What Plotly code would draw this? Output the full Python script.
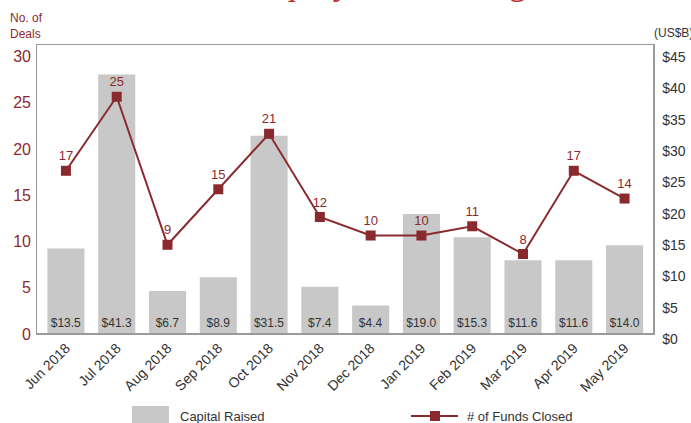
import plotly.graph_objects as go

months = ["Jun 2018", "Jul 2018", "Aug 2018", "Sep 2018", "Oct 2018", "Nov 2018",
          "Dec 2018", "Jan 2019", "Feb 2019", "Mar 2019", "Apr 2019", "May 2019"]
capital_raised = [13.5, 41.3, 6.7, 8.9, 31.5, 7.4, 4.4, 19.0, 15.3, 11.6, 11.6, 14.0]
funds_closed = [17, 25, 9, 15, 21, 12, 10, 10, 11, 8, 17, 14]

RED = "#8b2a2e"
GRAY_BAR = "#c8c8c8"
TXT = "#333333"
FONT = "Arial, Liberation Sans, sans-serif"

# plot-area pixel geometry
L, R, T, B = 37, 653, 45, 333
W, H = 691, 423
def px(x):
    return (x - L) / (R - L)
def py(y):
    return (B - y) / (B - T)

fig = go.Figure()
fig.add_trace(go.Bar(
    x=months, y=capital_raised, yaxis="y", name="Capital Raised",
    marker=dict(color=GRAY_BAR, line=dict(width=0)), width=0.73,
    texttemplate="$%{y:.1f}", textposition="inside", insidetextanchor="start",
    constraintext="none", textangle=0,
    textfont=dict(size=12, color=TXT, family=FONT), showlegend=False,
))
fig.add_trace(go.Scatter(
    x=months, y=funds_closed, yaxis="y2", name="# of Funds Closed",
    mode="lines+markers+text", text=[str(v) for v in funds_closed],
    textposition="top center", textfont=dict(size=13, color=RED, family=FONT),
    line=dict(color=RED, width=2), marker=dict(symbol="square", size=10, color=RED),
    showlegend=False, cliponaxis=False,
))

shapes = [
    dict(type="rect", xref="paper", yref="paper", x0=px(132), x1=px(169), y0=py(406), y1=py(430),
         fillcolor=GRAY_BAR, line=dict(width=0)),
    dict(type="line", xref="paper", yref="paper", x0=px(411), x1=px(458), y0=py(416), y1=py(416),
         line=dict(color=RED, width=2)),
    dict(type="rect", xref="paper", yref="paper", x0=px(430), x1=px(440), y0=py(411), y1=py(421),
         fillcolor=RED, line=dict(width=0)),
]

annotations = [
    dict(text="Capital Raised", x=px(178), y=py(416), xref="paper", yref="paper",
         xanchor="left", yanchor="middle", showarrow=False,
         font=dict(size=13, color=TXT, family=FONT)),
    dict(text="# of Funds Closed", x=px(465), y=py(416), xref="paper", yref="paper",
         xanchor="left", yanchor="middle", showarrow=False,
         font=dict(size=13, color=TXT, family=FONT)),
    dict(text="No. of<br>Deals", x=px(8), y=py(25.5), xref="paper", yref="paper",
         xanchor="left", yanchor="middle", align="left", showarrow=False,
         font=dict(size=12, color=RED, family=FONT)),
    dict(text="(US$B)", x=px(652), y=py(33), xref="paper", yref="paper",
         xanchor="left", yanchor="middle", showarrow=False,
         font=dict(size=12, color=TXT, family=FONT)),
    dict(text="Private Equity Fundraising", x=px(337), y=py(4), xref="paper", yref="paper",
         xanchor="center", yanchor="bottom", showarrow=False,
         font=dict(size=35, color="#c0302e", family="Liberation Serif, Times New Roman, serif")),
]

fig.update_layout(
    width=W, height=H,
    margin=dict(l=L, r=W - R, t=T, b=H - B, pad=0, autoexpand=False),
    paper_bgcolor="white", plot_bgcolor="white",
    font=dict(family=FONT, color=TXT),
    bargap=0.27,
    hovermode=False,
    xaxis=dict(type="category", range=[-0.57, 11.56], tickangle=-45, automargin=False,
               tickfont=dict(size=14, color=TXT, family=FONT), ticklabelstandoff=0,
               showgrid=False, zeroline=False, ticks="",
               showline=True, mirror=True, linecolor="#9a9a9a", linewidth=1.5),
    yaxis=dict(side="right", range=[0, 46], dtick=5, tickprefix="$", automargin=False,
               tickfont=dict(size=14, color=TXT, family=FONT), ticklabelstandoff=5,
               showgrid=False, zeroline=False, ticks="", ticklabelshift=6,
               showline=True, mirror=True, linecolor="#9a9a9a", linewidth=1.5),
    yaxis2=dict(side="left", overlaying="y", range=[-0.54, 30.6], dtick=5, automargin=False,
                tickfont=dict(size=16, color=RED, family=FONT), ticklabelstandoff=5,
                showgrid=False, zeroline=False, ticks="", ticklabelshift=6,
                showline=False),
    shapes=shapes,
    annotations=annotations,
)

fig.write_html("out.html", config={"displayModeBar": False, "staticPlot": True},
               post_script="document.body.style.margin='0px';document.body.style.overflow='hidden';")
